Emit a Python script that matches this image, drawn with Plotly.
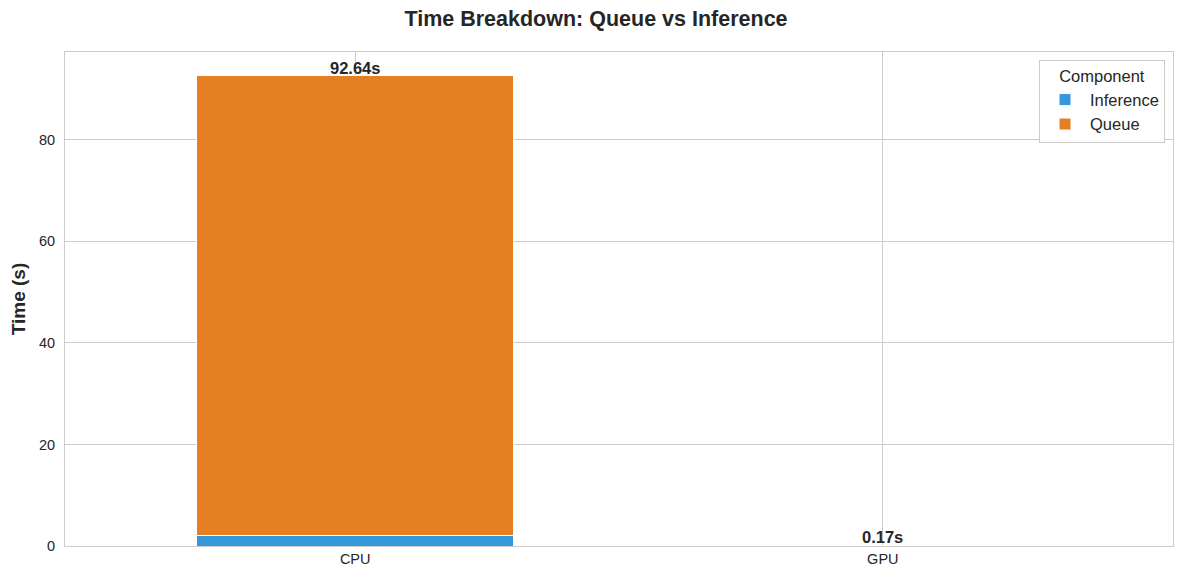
import plotly.graph_objects as go

devices = ["CPU", "GPU"]
inference = [2.0, 0.12]
queue = [90.64, 0.05]
totals = [92.64, 0.17]

fig = go.Figure()
fig.add_trace(go.Bar(x=devices, y=inference, name="Inference", width=0.6,
                     marker=dict(color="#3498db", line=dict(color="white", width=1))))
fig.add_trace(go.Bar(x=devices, y=queue, name="Queue", width=0.6,
                     marker=dict(color="#e67e22", line=dict(color="white", width=1))))

for d, t in zip(devices, totals):
    fig.add_annotation(x=d, y=t, text="<b>{:.2f}s</b>".format(t), showarrow=False,
                       yanchor="bottom", yshift=-3, font=dict(size=16.5, color="#262626"))

# page body adds an 8px offset, so the figure is sized and margined to compensate
fig.update_layout(
    barmode="stack",
    width=1176, height=575,
    margin=dict(l=56, r=10, t=44, b=37),
    paper_bgcolor="white", plot_bgcolor="white",
    font=dict(family="Liberation Sans, Arial, sans-serif", color="#262626", size=14),
    title=dict(text="<b>Time Breakdown: Queue vs Inference</b>", x=0.5, xanchor="center",
               y=0.981, yanchor="middle", font=dict(size=21.5)),
    legend=dict(title=dict(text="Component", side="top center", font=dict(size=16.5)),
                font=dict(size=16.5), traceorder="normal", itemwidth=40,
                x=0.9928, xanchor="right", y=0.984, yanchor="top",
                bordercolor="#cccccc", borderwidth=1, bgcolor="white"),
)
fig.update_xaxes(range=[-0.55, 1.55], showgrid=True, gridcolor="#cccccc",
                 showline=True, linecolor="#cccccc", mirror=True, ticks="",
                 tickfont=dict(size=14.5))
fig.update_yaxes(range=[0, 97.3], dtick=20, showgrid=True, gridcolor="#cccccc",
                 showline=True, linecolor="#cccccc", mirror=True, zeroline=False,
                 ticklabelstandoff=6,
                 title=dict(text="<b>Time (s)</b>", font=dict(size=19), standoff=8),
                 tickfont=dict(size=14.5))

fig.write_html("out.html")
